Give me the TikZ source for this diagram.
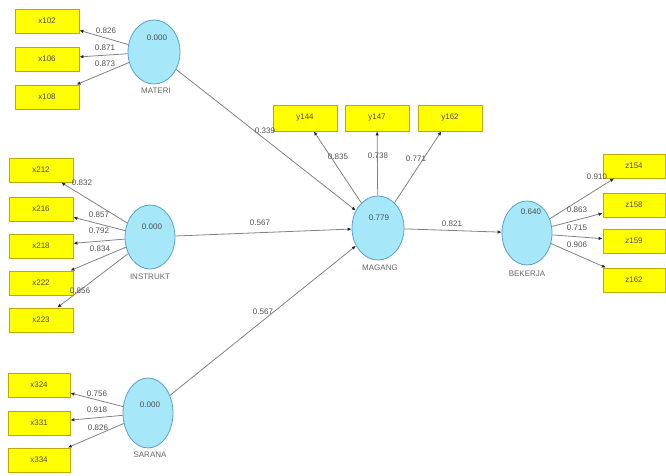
\documentclass[tikz,border=0pt]{standalone}
\usepackage{fontspec}
\setmainfont{Liberation Sans}
\usetikzlibrary{shapes.geometric,arrows.meta}
\definecolor{boxfill}{RGB}{255,255,0}
\definecolor{boxline}{RGB}{190,170,0}
\definecolor{lvfill}{RGB}{166,232,250}
\definecolor{lvline}{RGB}{90,160,200}
\definecolor{conn}{RGB}{130,130,130}
\definecolor{numtxt}{RGB}{80,80,80}
\tikzset{
  indbox/.style={draw=boxline, fill=boxfill, line width=0.8pt, minimum width=64pt, minimum height=24pt, inner sep=0pt, font=\fontsize{8}{9}\selectfont, text=black!70},
  lv/.style={ellipse, draw=lvline, fill=lvfill, line width=0.8pt, inner sep=0pt},
  lvname/.style={font=\fontsize{8}{9}\selectfont, text=black!60},
  lvval/.style={font=\fontsize{8}{9}\selectfont, text=black!70},
  num/.style={font=\fontsize{8}{9}\selectfont, text=numtxt, inner sep=0.5pt},
  arr/.style={draw=conn, line width=0.8pt, -{Latex[length=4pt,width=3.5pt,color=black!85]}}
}
\begin{document}
\begin{tikzpicture}[x=1pt,y=-1pt]
\useasboundingbox (0,0) rectangle (666,476);
% latent variables
\node[lv, minimum width=52pt, minimum height=64pt] (materi) at (154,52) {};
\node[lv, minimum width=50pt, minimum height=64pt] (instrukt) at (150,237) {};
\node[lv, minimum width=50pt, minimum height=70pt] (sarana) at (148,413) {};
\node[lv, minimum width=52pt, minimum height=64pt] (magang) at (378,228) {};
\node[lv, minimum width=50pt, minimum height=64pt] (bekerja) at (527,233) {};
\node[lvval] (materiv) at (157,38) {0.000};
\node[lvval] (instruktv) at (152,227) {0.000};
\node[lvval] (saranav) at (150,405) {0.000};
\node[lvval] (magangv) at (379,218) {0.779};
\node[lvval] (bekerjav) at (531,212) {0.640};
\node[lvname] (materin) at (156,91) {MATERI};
\node[lvname] (instruktn) at (150,277) {INSTRUKT};
\node[lvname] (saranan) at (150,455) {SARANA};
\node[lvname] (magangn) at (380,268) {MAGANG};
\node[lvname] (bekerjan) at (527,274) {BEKERJA};
% indicators
\node[indbox] (x102) at (47,21) {x102};
\node[indbox] (x106) at (47,59) {x106};
\node[indbox] (x108) at (47,97) {x108};
\node[indbox] (x212) at (41,170) {x212};
\node[indbox] (x216) at (41,209) {x216};
\node[indbox] (x218) at (41,246) {x218};
\node[indbox] (x222) at (41,283) {x222};
\node[indbox] (x223) at (41,320) {x223};
\node[indbox, minimum width=62pt] (x324) at (39,385) {x324};
\node[indbox, minimum width=62pt] (x331) at (39,423) {x331};
\node[indbox, minimum width=62pt] (x334) at (39,460) {x334};
\node[indbox, minimum height=26pt] (y144) at (305,118) {y144};
\node[indbox, minimum height=26pt] (y147) at (377,118) {y147};
\node[indbox, minimum height=26pt] (y162) at (450,118) {y162};
\node[indbox, minimum width=62pt] (z154) at (634,166) {z154};
\node[indbox, minimum width=62pt] (z158) at (634,205) {z158};
\node[indbox, minimum width=62pt] (z159) at (634,241) {z159};
\node[indbox, minimum width=62pt] (z162) at (634,280) {z162};
% outer loadings
\draw[arr] (materi) -- (x102);
\draw[arr] (materi) -- (x106);
\draw[arr] (materi) -- (x108);
\draw[arr] (instrukt) -- (x212);
\draw[arr] (instrukt) -- (x216);
\draw[arr] (instrukt) -- (x218);
\draw[arr] (instrukt) -- (x222);
\draw[arr] (instrukt) -- (x223);
\draw[arr] (sarana) -- (x324);
\draw[arr] (sarana) -- (x331);
\draw[arr] (sarana) -- (x334);
\draw[arr] (magang) -- (y144);
\draw[arr] (magang) -- (y147);
\draw[arr] (magang) -- (y162);
\draw[arr] (bekerja) -- (z154);
\draw[arr] (bekerja) -- (z158);
\draw[arr] (bekerja) -- (z159);
\draw[arr] (bekerja) -- (z162);
% inner paths
\draw[arr] (materi) -- (magang);
\draw[arr] (instrukt) -- (magang);
\draw[arr] (sarana) -- (magang);
\draw[arr] (magang) -- (bekerja);
% loading labels
\node[num] (l1) at (106,31) {0.826};
\node[num] (l2) at (105,48) {0.871};
\node[num] (l3) at (105,64) {0.873};
\node[num] (l4) at (82,183) {0.832};
\node[num] (l5) at (99,215) {0.857};
\node[num] (l6) at (99,231) {0.792};
\node[num] (l7) at (100,249) {0.834};
\node[num] (l8) at (80,291) {0.856};
\node[num] (l9) at (97,394) {0.756};
\node[num] (l10) at (97,410) {0.918};
\node[num] (l11) at (98,428) {0.826};
\node[num] (l12) at (338,157) {0.835};
\node[num] (l13) at (378,156) {0.738};
\node[num] (l14) at (416,159) {0.771};
\node[num] (l15) at (597,177) {0.910};
\node[num] (l16) at (577,210) {0.863};
\node[num] (l17) at (577,228) {0.715};
\node[num] (l18) at (577,245) {0.906};
% path coefficients
\node[num] (p1) at (265,131) {0.339};
\node[num] (p2) at (260,223) {0.567};
\node[num] (p3) at (263,312) {0.567};
\node[num] (p4) at (452,224) {0.821};
\end{tikzpicture}
\end{document}
